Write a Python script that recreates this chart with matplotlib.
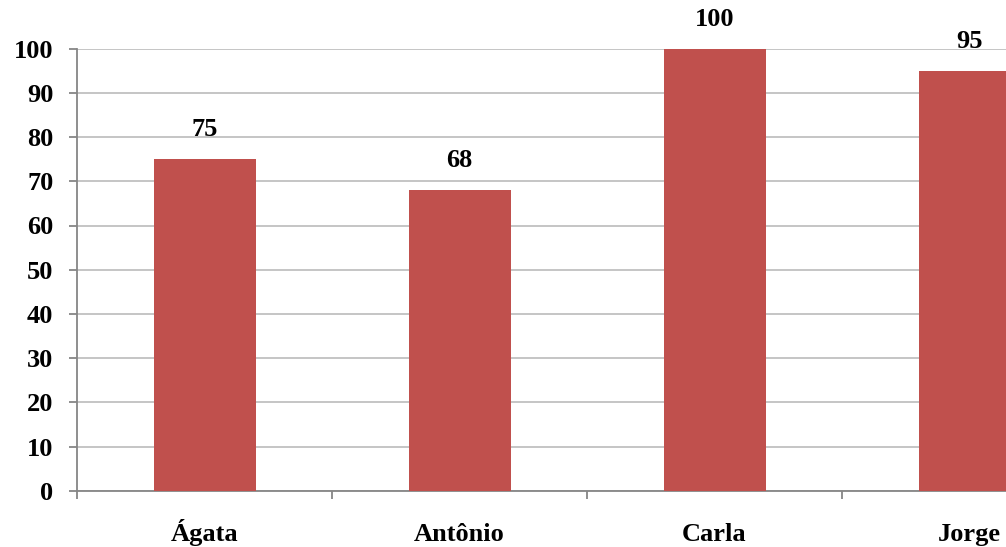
import numpy as np
from matplotlib import pyplot as plt

# notas por aluno
nomes = ['Ágata', 'Antônio', 'Carla', 'Jorge']
notas = [75, 68, 100, 95]
yticks = list(range(0, 101, 10))

plt.rc('font', family='Liberation Serif', weight='bold')

W, H = 1006, 547
fig = plt.figure(figsize=(W/100, H/100), dpi=100)
# eixo mais largo que a figura: a ultima categoria fica cortada
x0, x1 = 77, 77 + 4*255
y0, y1 = 490.7, 48.7
ax = fig.add_axes([x0/W, (H - y0)/H, (x1 - x0)/W, (y0 - y1)/H])

pos = np.arange(len(nomes))
ax.bar(pos, notas, width=0.4, color='#C0504D', zorder=3)
for p, v in zip(pos, notas):
    ax.annotate('%d' % v, (p, v), xytext=(0, 13), textcoords='offset points',
                ha='center', va='bottom', fontsize=19, fontweight='bold')

ax.set_xlim(-0.5, len(nomes) - 0.5)
ax.set_ylim(0, 100)
ax.set_yticks(yticks)
ax.set_xticks(pos)
ax.set_xticklabels(nomes)
ax.set_xticks(np.arange(len(nomes) + 1) - 0.5, minor=True)
ax.grid(axis='y', color='#C0C0C0', lw=1.3, zorder=0)

for s in ['top', 'right']:
    ax.spines[s].set_visible(False)
for s in ['left', 'bottom']:
    ax.spines[s].set_color('#868686')
    ax.spines[s].set_linewidth(1.3)

ax.tick_params(axis='y', length=6, width=1.3, color='#868686', pad=11,
               labelsize=19)
ax.tick_params(axis='x', which='major', length=0, pad=36, labelsize=19)
ax.tick_params(axis='x', which='minor', length=6, width=1.3, color='#868686')
for lb in ax.get_xticklabels():
    lb.set_va('baseline')

fig.savefig('out.png', dpi=100)
